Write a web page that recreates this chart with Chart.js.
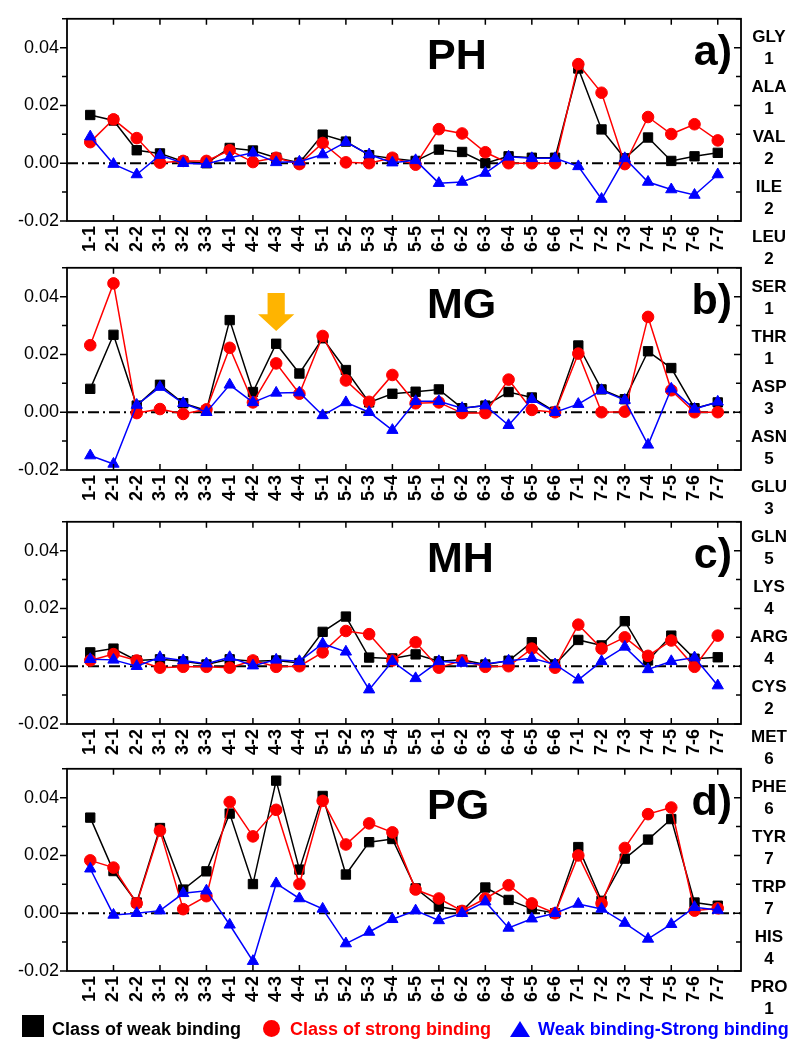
<!DOCTYPE html>
<html><head><meta charset="utf-8">
<script src="https://cdn.jsdelivr.net/npm/chart.js@4.4.0/dist/chart.umd.min.js"></script>
<style>
html,body{margin:0;padding:0;background:#fff;}
#wrap{position:relative;width:799px;height:1050px;overflow:hidden;font-family:"Liberation Sans",Arial,sans-serif;}
canvas.pc{position:absolute;left:0;}
#aa{position:absolute;left:739px;top:22.5px;width:60px;}
.aa{height:50px;display:flex;flex-direction:column;justify-content:center;align-items:center;font-weight:bold;font-size:17px;line-height:21.5px;color:#000;}
.leg{position:absolute;font-weight:bold;font-size:18px;line-height:20px;white-space:nowrap;}
</style></head><body>
<div id="wrap">
<canvas class="pc" id="cA" width="799" height="260" style="top:0px"></canvas>
<canvas class="pc" id="cB" width="799" height="260" style="top:249px"></canvas>
<canvas class="pc" id="cC" width="799" height="260" style="top:503px"></canvas>
<canvas class="pc" id="cD" width="799" height="260" style="top:750px"></canvas>
<div id="aa"></div>
<div style="position:absolute;left:22px;top:1015px;width:22px;height:22px;background:#000"></div>
<div class="leg" style="left:52px;top:1019px;color:#000">Class of weak binding</div>
<div style="position:absolute;left:263px;top:1020px;width:17px;height:17px;border-radius:50%;background:#ff0000"></div>
<div class="leg" style="left:290px;top:1019px;color:#ff0000">Class of strong binding</div>
<div style="position:absolute;left:510px;top:1021px;width:0;height:0;border-left:10.5px solid transparent;border-right:10.5px solid transparent;border-bottom:16px solid #0000ff"></div>
<div class="leg" style="left:538px;top:1019px;color:#0000ff">Weak binding-Strong binding</div>
</div>
<script>
const categories = ['1-1','2-1','2-2','3-1','3-2','3-3','4-1','4-2','4-3','4-4','5-1','5-2','5-3','5-4','5-5','6-1','6-2','6-3','6-4','6-5','6-6','7-1','7-2','7-3','7-4','7-5','7-6','7-7'];
const yTickValues = [-0.02, 0.00, 0.02, 0.04];
const seriesNames = ['Class of weak binding', 'Class of strong binding', 'Weak binding-Strong binding'];
const panelTitles = ['PH', 'MG', 'MH', 'PG'];
const panelLetters = ['a)', 'b)', 'c)', 'd)'];
const aminoAcids = ['GLY','ALA','VAL','ILE','LEU','SER','THR','ASP','ASN','GLU','GLN','LYS','ARG','CYS','MET','PHE','TYR','TRP','HIS','PRO'];
const aminoCounts = [1,1,2,2,2,1,1,3,5,3,5,4,4,2,6,6,7,7,4,1];

const phWeak = [0.0167,0.0148,0.0045,0.0034,0.0006,0.0000,0.0053,0.0044,0.0019,0.0002,0.0099,0.0075,0.0028,0.0016,0.0008,0.0047,0.0039,0.0000,0.0024,0.0019,0.0019,0.0328,0.0117,0.0017,0.0089,0.0008,0.0024,0.0036];
const phStrong = [0.0073,0.0152,0.0087,0.0002,0.0008,0.0008,0.0045,0.0004,0.0019,-0.0003,0.0070,0.0003,0.0000,0.0019,-0.0005,0.0118,0.0103,0.0038,0.0000,0.0000,0.0000,0.0343,0.0244,-0.0003,0.0160,0.0101,0.0135,0.0079];
const phDiff = [0.0092,-0.0003,-0.0039,0.0028,0.0000,-0.0003,0.0019,0.0036,0.0003,0.0005,0.0030,0.0073,0.0030,0.0002,0.0010,-0.0069,-0.0065,-0.0034,0.0022,0.0017,0.0017,-0.0011,-0.0124,0.0017,-0.0065,-0.0091,-0.0110,-0.0039];

const mgWeak = [0.0081,0.0268,0.0023,0.0095,0.0031,0.0006,0.0319,0.0070,0.0237,0.0134,0.0256,0.0146,0.0034,0.0064,0.0071,0.0079,0.0014,0.0023,0.0070,0.0051,0.0002,0.0231,0.0079,0.0045,0.0211,0.0153,0.0014,0.0034];
const mgStrong = [0.0232,0.0446,-0.0003,0.0011,-0.0006,0.0010,0.0223,0.0034,0.0169,0.0064,0.0264,0.0110,0.0036,0.0129,0.0031,0.0034,-0.0003,-0.0003,0.0113,0.0008,0.0000,0.0203,0.0000,0.0002,0.0330,0.0076,0.0000,0.0000];
const mgDiff = [-0.0150,-0.0179,0.0025,0.0087,0.0031,0.0000,0.0095,0.0034,0.0067,0.0068,-0.0011,0.0034,0.0000,-0.0062,0.0038,0.0038,0.0014,0.0023,-0.0045,0.0045,0.0000,0.0028,0.0076,0.0042,-0.0113,0.0081,0.0011,0.0036];

const mhWeak = [0.0048,0.0061,0.0020,0.0024,0.0017,0.0006,0.0024,0.0017,0.0020,0.0011,0.0119,0.0172,0.0030,0.0027,0.0041,0.0017,0.0022,0.0006,0.0019,0.0083,0.0006,0.0091,0.0072,0.0156,0.0020,0.0106,0.0026,0.0031];
const mhStrong = [0.0020,0.0042,0.0020,-0.0005,-0.0002,-0.0002,-0.0005,0.0020,-0.0002,0.0000,0.0048,0.0122,0.0111,0.0020,0.0083,-0.0005,0.0020,-0.0002,0.0000,0.0061,-0.0005,0.0144,0.0061,0.0100,0.0036,0.0089,-0.0002,0.0106];
const mhDiff = [0.0024,0.0022,0.0000,0.0031,0.0020,0.0009,0.0031,0.0002,0.0022,0.0017,0.0078,0.0050,-0.0081,0.0017,-0.0042,0.0017,0.0011,0.0008,0.0019,0.0028,0.0006,-0.0047,0.0017,0.0067,-0.0011,0.0017,0.0030,-0.0067];

const pgWeak = [0.0331,0.0146,0.0037,0.0295,0.0082,0.0145,0.0345,0.0101,0.0459,0.0151,0.0406,0.0134,0.0246,0.0257,0.0086,0.0023,0.0008,0.0089,0.0046,0.0015,0.0000,0.0229,0.0043,0.0189,0.0255,0.0326,0.0037,0.0026];
const pgStrong = [0.0183,0.0158,0.0034,0.0286,0.0014,0.0059,0.0385,0.0266,0.0358,0.0101,0.0389,0.0238,0.0311,0.0280,0.0082,0.0051,0.0008,0.0051,0.0097,0.0034,0.0000,0.0200,0.0034,0.0226,0.0343,0.0366,0.0009,0.0017];
const pgDiff = [0.0154,-0.0006,0.0000,0.0009,0.0069,0.0078,-0.0040,-0.0166,0.0103,0.0051,0.0015,-0.0105,-0.0065,-0.0021,0.0009,-0.0025,0.0000,0.0040,-0.0051,-0.0019,0.0000,0.0032,0.0015,-0.0034,-0.0089,-0.0038,0.0021,0.0011];

// annotation arrow (panel b) at category 4-3, in data units (half-widths in category units)
const arrowMG = {cat: '4-3', yTop: 0.0413, yNeck: 0.0339, yTip: 0.0281, shaft: 0.37, head: 0.78};

const FONT = '"Liberation Sans", Arial, sans-serif';

// amino acid column
const aaBox = document.getElementById('aa');
aminoAcids.forEach((a, i) => {
  const d = document.createElement('div');
  d.className = 'aa';
  d.innerHTML = '<span>' + a + '</span><span>' + aminoCounts[i] + '</span>';
  aaBox.appendChild(d);
});

const framePlugin = {
  id: 'frame',
  beforeDatasetsDraw(chart) {
    const {ctx, chartArea: a, scales: {y}} = chart;
    const y0 = y.getPixelForValue(0);
    ctx.save();
    ctx.strokeStyle = '#000'; ctx.lineWidth = 2;
    ctx.setLineDash([11, 4, 2, 4]);
    ctx.beginPath(); ctx.moveTo(a.left, y0); ctx.lineTo(a.right, y0); ctx.stroke();
    ctx.restore();
  },
  afterDatasetsDraw(chart, args, opts) {
    const ar = opts.arrow;
    if (!ar) return;
    const {ctx, scales: {x, y}} = chart;
    const xc = x.getPixelForValue(categories.indexOf(ar.cat) + 1);
    const unit = x.getPixelForValue(1) - x.getPixelForValue(0);
    const sw = ar.shaft * unit, hw = ar.head * unit;
    const yt = y.getPixelForValue(ar.yTop), yn = y.getPixelForValue(ar.yNeck), yp = y.getPixelForValue(ar.yTip);
    ctx.save();
    ctx.fillStyle = '#FFB400';
    ctx.beginPath();
    ctx.moveTo(xc - sw, yt); ctx.lineTo(xc + sw, yt); ctx.lineTo(xc + sw, yn);
    ctx.lineTo(xc + hw, yn); ctx.lineTo(xc, yp); ctx.lineTo(xc - hw, yn);
    ctx.lineTo(xc - sw, yn); ctx.closePath(); ctx.fill();
    ctx.restore();
  },
  afterDraw(chart, args, opts) {
    const {ctx, chartArea: a, scales: {x, y}} = chart;
    ctx.save();
    ctx.strokeStyle = '#000'; ctx.lineWidth = 1.8; ctx.setLineDash([]);
    ctx.strokeRect(a.left, a.top, a.right - a.left, a.bottom - a.top);
    ctx.lineWidth = 1.5;
    ctx.beginPath();
    for (let k = -2; k <= 5; k++) {
      const py = y.getPixelForValue(k / 100);
      const len = (k % 2 === 0) ? 7 : 5;
      ctx.moveTo(a.left - len, py); ctx.lineTo(a.left, py);
      ctx.moveTo(a.right, py); ctx.lineTo(a.right - len, py);
    }
    for (let i = 2; i <= categories.length; i += 2) {
      const px = x.getPixelForValue(i);
      ctx.moveTo(px, a.bottom); ctx.lineTo(px, a.bottom - 6);
      ctx.moveTo(px, a.top); ctx.lineTo(px, a.top + 6);
    }
    ctx.stroke();
    ctx.fillStyle = '#000';
    ctx.font = 'bold 43px ' + FONT;
    ctx.textBaseline = 'alphabetic';
    ctx.textAlign = 'left';
    ctx.fillText(opts.title, a.left + 360, a.top + 50);
    ctx.textAlign = 'right';
    ctx.fillText(opts.letter, a.right - 9, a.top + 46);
    ctx.restore();
  }
};

function ds(label, values, color, style, radius, order) {
  return {
    label, order,
    data: values.map((v, i) => ({x: i + 1, y: v})),
    borderColor: color, backgroundColor: color,
    borderWidth: 1.5, pointStyle: style, pointRadius: radius, pointHoverRadius: radius,
    pointBorderWidth: 1, tension: 0
  };
}

function makePanel(id, idx, weak, strong, diff, arrow) {
  new Chart(document.getElementById(id), {
    type: 'line',
    data: {
      datasets: [
        ds(seriesNames[0], weak, '#000000', 'rect', 6.6, 2),
        ds(seriesNames[1], strong, '#ff0000', 'circle', 5.8, 1),
        ds(seriesNames[2], diff, '#0000ff', 'triangle', 6.5, 0)
      ]
    },
    options: {
      responsive: false, animation: false, events: [],
      layout: {padding: {top: 14, right: 58, left: 0, bottom: 0}},
      plugins: {
        legend: {display: false}, tooltip: {enabled: false},
        frame: {title: panelTitles[idx], letter: panelLetters[idx], arrow: arrow}
      },
      scales: {
        x: {
          type: 'linear', min: 0, max: categories.length + 1,
          afterBuildTicks: s => { s.ticks = categories.map((c, i) => ({value: i + 1})); },
          ticks: {
            autoSkip: false, minRotation: 90, maxRotation: 90, padding: 5, color: '#000',
            font: {family: FONT, size: 18, weight: 'bold'},
            callback: v => categories[Math.round(v) - 1] || ''
          },
          grid: {display: false, drawTicks: false}, border: {display: false},
          afterFit: s => { s.height = 39; }
        },
        y: {
          min: -0.02, max: 0.05,
          afterBuildTicks: s => { s.ticks = yTickValues.map(v => ({value: v})); },
          ticks: {padding: 8, color: '#000', font: {family: FONT, size: 18}, callback: v => v.toFixed(2)},
          grid: {display: false, drawTicks: false}, border: {display: false},
          afterFit: s => { s.width = 67; }
        }
      }
    },
    plugins: [framePlugin]
  });
}

makePanel('cA', 0, phWeak, phStrong, phDiff, null);
makePanel('cB', 1, mgWeak, mgStrong, mgDiff, arrowMG);
makePanel('cC', 2, mhWeak, mhStrong, mhDiff, null);
makePanel('cD', 3, pgWeak, pgStrong, pgDiff, null);
</script>
</body></html>
